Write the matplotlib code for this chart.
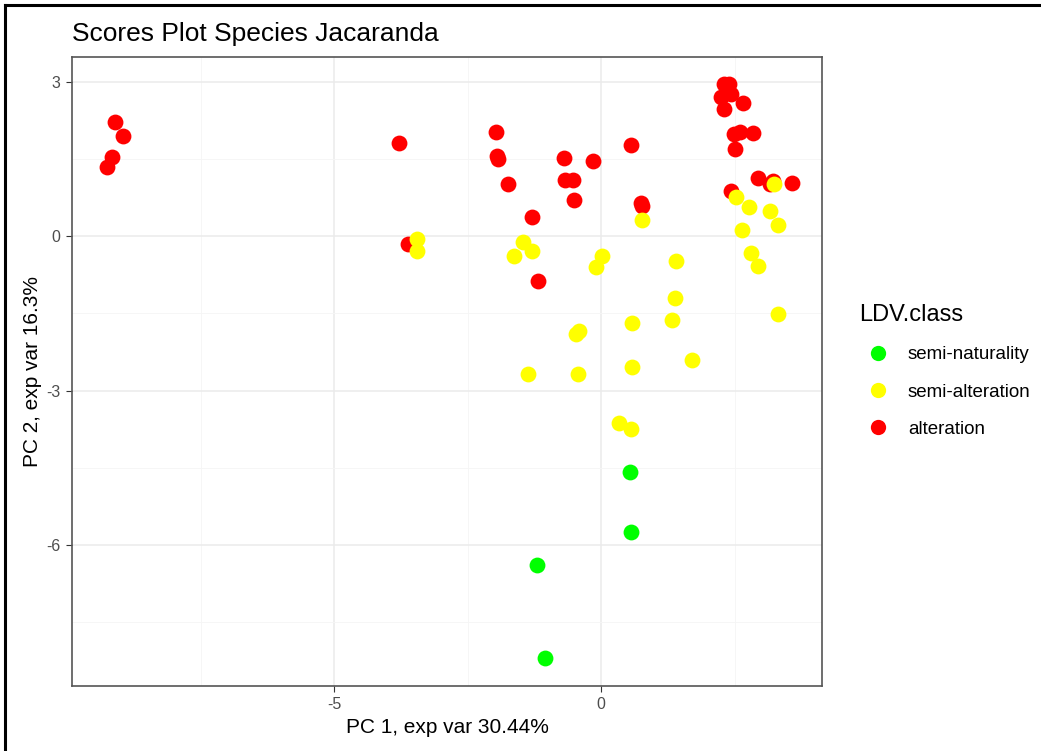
import matplotlib
matplotlib.use('Agg')
import matplotlib.pyplot as plt
from matplotlib.lines import Line2D

plt.rcParams['font.family'] = ['Liberation Sans', 'DejaVu Sans']
plt.rcParams['axes.unicode_minus'] = False

# PC scores, grouped by class
natural_x = [0.53, 0.55, -1.20, -1.06]
natural_y = [-4.58, -5.74, -6.39, -8.20]

semi_x = [-3.44, -3.45, -1.46, -1.29, -1.63, 0.02, -0.10, 0.77, 1.40, 1.38,
          1.32, 0.58, -0.42, -0.47, -1.37, -0.44, 0.58, 1.69, 0.33, 0.56,
          3.24, 2.52, 2.77, 3.15, 3.30, 2.63, 2.81, 2.93, 3.31]
semi_y = [-0.06, -0.29, -0.11, -0.28, -0.38, -0.39, -0.60, 0.31, -0.48, -1.20,
          -1.62, -1.69, -1.84, -1.90, -2.68, -2.67, -2.54, -2.41, -3.64, -3.75,
          1.01, 0.76, 0.57, 0.49, 0.21, 0.12, -0.32, -0.57, -1.52]

alter_x = [-9.11, -8.96, -9.15, -9.26, -3.79, -3.62, -1.97, -1.96, -1.93, -1.74,
           -0.69, -0.67, -0.53, -0.15, -0.51, 0.55, 0.74, 0.76, -1.29, -1.18,
           2.29, 2.40, 2.24, 2.42, 2.30, 2.65, 2.48, 2.59, 2.85, 2.51,
           2.93, 3.16, 3.22, 3.58, 2.42]
alter_y = [2.22, 1.94, 1.54, 1.35, 1.82, -0.16, 2.03, 1.56, 1.50, 1.01,
           1.52, 1.09, 1.09, 1.46, 0.71, 1.77, 0.64, 0.58, 0.37, -0.88,
           2.95, 2.95, 2.70, 2.77, 2.48, 2.58, 1.99, 2.03, 2.01, 1.70,
           1.14, 1.02, 1.07, 1.04, 0.88]

classes = ['semi-naturality', 'semi-alteration', 'alteration']
colors = ['#00ff00', '#ffff00', '#ff0000']

fig = plt.figure(figsize=(10.41, 7.51), dpi=100)
ax = fig.add_axes([0.069, 0.0866, 0.721, 0.8374])

ax.scatter(alter_x, alter_y, s=130, c=colors[2], linewidths=0, zorder=3)
ax.scatter(semi_x, semi_y, s=130, c=colors[1], linewidths=0, zorder=3)
ax.scatter(natural_x, natural_y, s=130, c=colors[0], linewidths=0, zorder=3)

ax.set_xlim(-9.91, 4.14)
ax.set_ylim(-8.74, 3.48)
ax.set_xticks([-5, 0])
ax.set_yticks([3, 0, -3, -6])
ax.set_xticks([-7.5, -2.5, 2.5], minor=True)
ax.set_yticks([1.5, -1.5, -4.5, -7.5], minor=True)
ax.grid(True, which='major', color='#ebebeb', linewidth=1.1, zorder=0)
ax.grid(True, which='minor', color='#f5f5f5', linewidth=0.6, zorder=0)
ax.tick_params(which='minor', length=0)
ax.tick_params(which='major', length=4, color='#333333', labelsize=11.5,
               labelcolor='#4d4d4d', pad=4)
for sp in ax.spines.values():
    sp.set_color('#555555')
    sp.set_linewidth(1.2)

ax.set_xlabel('PC 1, exp var 30.44%', fontsize=15, labelpad=4)
ax.set_ylabel('PC 2, exp var 16.3%', fontsize=15, labelpad=3)
fig.text(0.069, 0.955, 'Scores Plot Species Jacaranda', fontsize=19, va='center')

handles = [Line2D([], [], marker='o', linestyle='', markersize=11,
                  markerfacecolor=c, markeredgewidth=0) for c in colors]
leg = fig.legend(handles, classes, title='LDV.class', loc='upper left',
                 bbox_to_anchor=(0.818, 0.605), frameon=False, fontsize=13.5,
                 title_fontsize=17, alignment='left', labelspacing=1.07,
                 handletextpad=0.6, borderaxespad=0)

# outer frame of the picture (left and top edges)
fig.add_artist(Line2D([0.005, 0.005], [0, 0.993], color='black', linewidth=2.2,
                      transform=fig.transFigure))
fig.add_artist(Line2D([0.005, 1.0], [0.993, 0.993], color='black', linewidth=2.2,
                      transform=fig.transFigure))

fig.savefig('out.png', dpi=100)
